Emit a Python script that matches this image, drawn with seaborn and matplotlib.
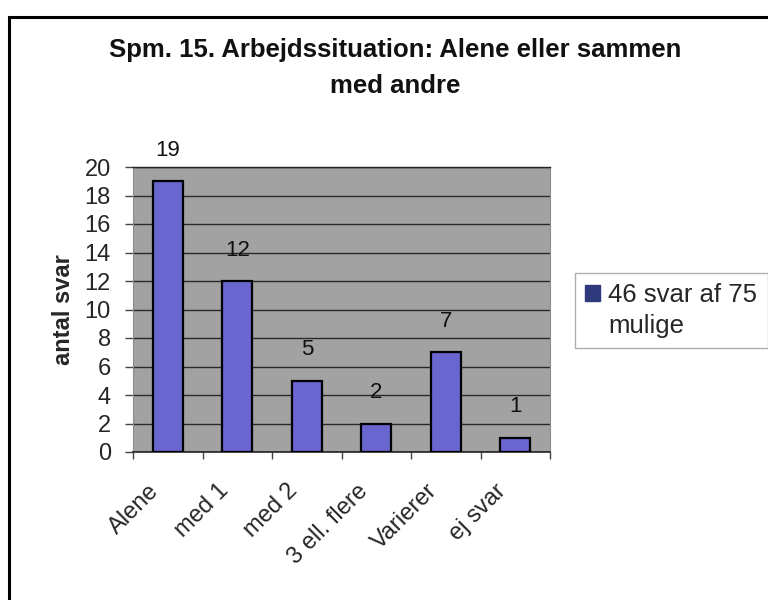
import matplotlib
matplotlib.use("Agg")
import matplotlib.pyplot as plt
from matplotlib.patches import Rectangle, Patch
from matplotlib.ticker import FixedLocator
from matplotlib.transforms import ScaledTranslation
import seaborn as sns
import pandas as pd

# data
categories = ["Alene", "med 1", "med 2", "3 ell. flere", "Varierer", "ej svar"]
antal = [19, 12, 5, 2, 7, 1]
legend_lines = ["46 svar af 75", "mulige"]
title_lines = ["Spm. 15. Arbejdssituation: Alene eller sammen", "med andre"]

df = pd.DataFrame({"kategori": categories, "antal": antal})

sns.set_theme(style="white")
plt.rcParams["font.family"] = ["Liberation Sans", "DejaVu Sans"]

W, H = 768, 600
fig = plt.figure(figsize=(W / 100, H / 100), dpi=100)
fig.patch.set_facecolor("white")

# plot area in pixels: x 133..550, y 167..452
ax = fig.add_axes([133 / W, 1 - 452 / H, (550 - 133) / W, (452 - 167) / H])
ax.set_facecolor("#a2a2a2")

sns.barplot(data=df, x="kategori", y="antal", color="#6a66d0", width=0.43,
            edgecolor="black", linewidth=1.6, saturation=1, ax=ax, zorder=3)

ax.set_ylim(0, 20)
ax.set_xlim(-0.5, len(categories) - 0.5)
ax.set_yticks(range(0, 21, 2))
ax.yaxis.grid(True, color="#2a2a2a", linewidth=1.0, zorder=1)
ax.set_axisbelow(True)

for i, v in enumerate(antal):
    ax.annotate(str(v), (i, v), xytext=(0, 31), textcoords="offset pixels",
                ha="center", va="center", fontsize=16, color="#111111",
                annotation_clip=False, zorder=5)

ax.set_xlabel("")
ax.set_ylabel("antal svar", fontsize=17, fontweight="bold", labelpad=7)
ax.tick_params(axis="y", labelsize=17, length=6, width=1, color="#444444", left=True, pad=10)
ax.set_xticks(range(len(categories)))
ax.set_xticklabels(categories, rotation=45, ha="right", rotation_mode="anchor", fontsize=17)
ax.tick_params(axis="x", which="major", length=0, pad=20)
offset = ScaledTranslation(-20 / 100, 0, fig.dpi_scale_trans)
for lab in ax.get_xticklabels():
    lab.set_transform(lab.get_transform() + offset)
ax.xaxis.set_minor_locator(FixedLocator([i + 0.5 for i in range(-1, len(categories))]))
ax.tick_params(axis="x", which="minor", length=5, width=1, color="#444444", bottom=True)

for s in ["left", "right"]:
    ax.spines[s].set_color("#8c8c8c")
    ax.spines[s].set_linewidth(0.8)
ax.spines["bottom"].set_color("#222222")
ax.spines["bottom"].set_linewidth(1.2)
ax.spines["top"].set_color("#222222")
ax.spines["top"].set_linewidth(1.0)

for k, line in enumerate(title_lines):
    fig.text(395 / W, 1 - (50 + 36 * k) / H, line, ha="center", va="center",
             fontsize=18.5, fontweight="bold", color="#111111")

handles = [Patch(facecolor="#2f3a7c", edgecolor="#2f3a7c"),
           Patch(facecolor="none", edgecolor="none")]
leg = fig.legend(handles, legend_lines, loc="upper left",
                 bbox_to_anchor=(575 / W, 1 - 273 / H), borderaxespad=0, fontsize=18.5,
                 frameon=True, fancybox=False, handlelength=0.58, handleheight=0.58,
                 handletextpad=0.32, borderpad=0.4, labelspacing=0.25)
leg.get_frame().set_edgecolor("#999999")
leg.get_frame().set_linewidth(1.0)

# outer chart frame
fig.add_artist(Rectangle((9 / W, -0.05), 1.1, 1 - 17 / H + 0.05, transform=fig.transFigure,
                         fill=False, edgecolor="black", linewidth=2.2))

fig.savefig("out.png", dpi=100)
